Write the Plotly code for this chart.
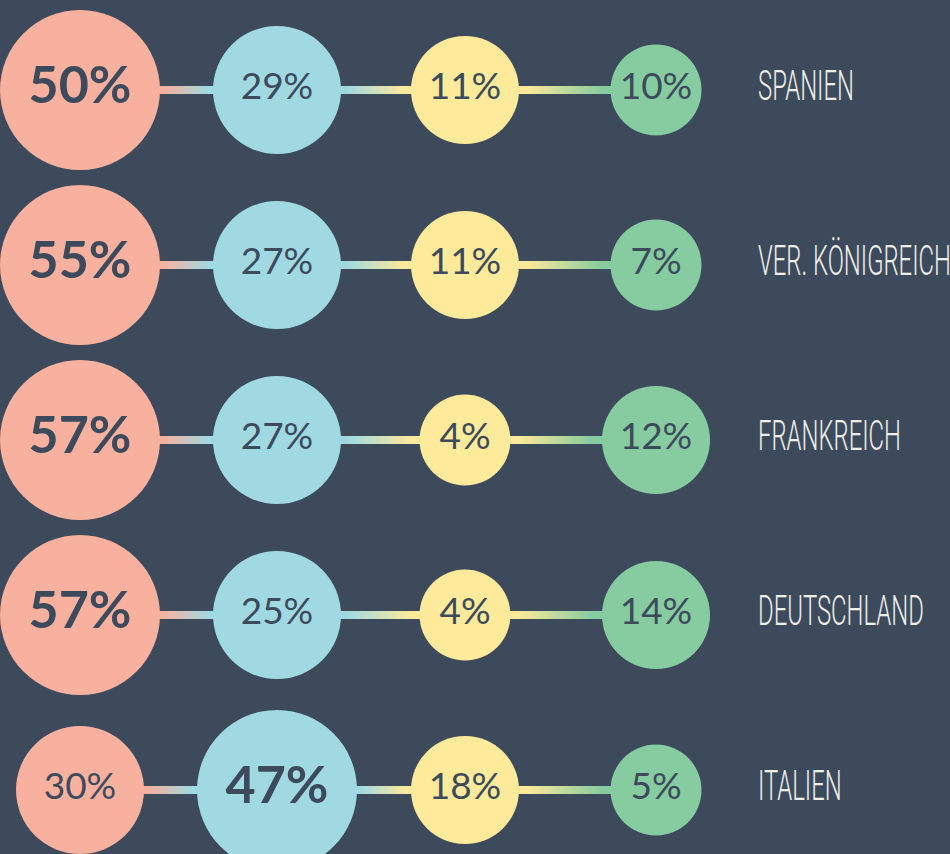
import plotly.graph_objects as go

# ---- data ----
countries = ["SPANIEN", "VER. KÖNIGREICH", "FRANKREICH", "DEUTSCHLAND", "ITALIEN"]
series_a = [50, 55, 57, 57, 30]   # salmon
series_b = [29, 27, 27, 25, 47]   # light blue
series_c = [11, 11, 4, 4, 18]     # yellow
series_d = [10, 7, 12, 14, 5]     # green

# ---- styles / layout constants ----
BG = "#3c4a5c"
COLORS = ["#f8b19e", "#a0d9e2", "#fdea9a", "#86cca0"]
TEXT_DARK = "#3c4a5c"
LABEL_COLOR = "#eeeee8"
COL_X = [80, 277, 465, 656]          # column centres (pixel axis)
ROW_Y0, ROW_STEP = 90, 175            # row centres (pixel axis)
RANK_SIZES = [160, 128, 108, 91]      # diameter by rank within a row
W, H = 950, 854
LABEL_SCALE_X = 0.555                 # horizontal condensing of the country labels

series = [series_a, series_b, series_c, series_d]
n_rows = len(countries)
row_y = [ROW_Y0 + ROW_STEP * i for i in range(n_rows)]


def hex_to_rgb(h):
    h = h.lstrip("#")
    return tuple(int(h[i:i + 2], 16) for i in (0, 2, 4))


def mix(c1, c2, t):
    a, b = hex_to_rgb(c1), hex_to_rgb(c2)
    return "rgb({},{},{})".format(*[round(a[k] + (b[k] - a[k]) * t) for k in range(3)])


# sizes by rank inside each row
sizes = [[0] * n_rows for _ in range(4)]
for r in range(n_rows):
    vals = [series[c][r] for c in range(4)]
    order = sorted(range(4), key=lambda c: -vals[c])
    for rank, c in enumerate(order):
        sizes[c][r] = RANK_SIZES[rank]

fig = go.Figure()

# gradient connectors between circle edges (drawn below the circles)
shapes = []
N_SEG = 50
for r in range(n_rows):
    y = row_y[r]
    for c in range(3):
        x0 = COL_X[c] + sizes[c][r] / 2 - 4
        x1 = COL_X[c + 1] - sizes[c + 1][r] / 2 + 4
        for k in range(N_SEG):
            f0 = k / N_SEG
            f1 = (k + 1) / N_SEG
            fm = (f0 + f1) / 2
            t = min(1.0, max(0.0, (fm - 0.12) / 0.76))
            shapes.append(dict(
                type="line", layer="below",
                x0=x0 + (x1 - x0) * f0 - 0.6, x1=x0 + (x1 - x0) * f1 + 0.6,
                y0=y, y1=y, xref="x", yref="y",
                line=dict(color=mix(COLORS[c], COLORS[c + 1], t), width=8),
            ))

# circles
for c in range(4):
    fig.add_trace(go.Scatter(
        x=[COL_X[c]] * n_rows, y=row_y, mode="markers",
        marker=dict(size=sizes[c], color=COLORS[c], line=dict(width=0), opacity=1),
        hoverinfo="skip", showlegend=False,
    ))

# value labels
big_x, big_y, big_t, sm_x, sm_y, sm_t = [], [], [], [], [], []
for c in range(4):
    for r in range(n_rows):
        txt = f"{series[c][r]}%"
        if sizes[c][r] == RANK_SIZES[0]:
            big_x.append(COL_X[c]); big_y.append(row_y[r]); big_t.append(txt)
        else:
            sm_x.append(COL_X[c]); sm_y.append(row_y[r]); sm_t.append(txt)

fig.add_trace(go.Scatter(
    x=big_x, y=big_y, text=big_t, mode="text", textposition="middle center",
    textfont=dict(family="Lato, sans-serif", size=52, color=TEXT_DARK, weight="bold"),
    hoverinfo="skip", showlegend=False, cliponaxis=False,
))
fig.add_trace(go.Scatter(
    x=sm_x, y=sm_y, text=sm_t, mode="text", textposition="middle center",
    textfont=dict(family="Lato, sans-serif", size=37, color=TEXT_DARK),
    hoverinfo="skip", showlegend=False, cliponaxis=False,
))

# country labels (last trace; condensed horizontally after rendering)
fig.add_trace(go.Scatter(
    x=[758] * n_rows, y=[v - 1 for v in row_y], text=countries, mode="text",
    textposition="middle right",
    textfont=dict(family="Roboto, sans-serif", size=43, color=LABEL_COLOR, weight=300),
    hoverinfo="skip", showlegend=False, cliponaxis=False,
))

fig.update_layout(
    width=W, height=H, margin=dict(l=0, r=0, t=0, b=0),
    paper_bgcolor=BG, plot_bgcolor=BG, shapes=shapes,
    xaxis=dict(range=[0, W], visible=False, fixedrange=True),
    yaxis=dict(range=[H, 0], visible=False, fixedrange=True),
)

post = """
document.body.style.margin = '0';
document.body.style.overflow = 'hidden';
(function(){
  function condense(){
    var gd = document.getElementById('{plot_id}');
    if (!gd) return false;
    var traces = gd.querySelectorAll('g.scatterlayer g.trace');
    if (!traces.length) return false;
    var last = traces[traces.length - 1];
    var texts = last.querySelectorAll('text');
    if (!texts.length) return false;
    texts.forEach(function(t){
      if (t.getAttribute('data-condensed')) return;
      var x = parseFloat(t.getAttribute('x')) || 0;
      t.setAttribute('transform', 'translate(' + x + ',0) scale(%s,1) translate(' + (-x) + ',0)');
      t.setAttribute('data-condensed', '1');
    });
    return true;
  }
  if (!condense()) { setTimeout(condense, 0); setTimeout(condense, 200); }
})();
""" % LABEL_SCALE_X

fig.write_html("out.html", post_script=post, config={"displayModeBar": False})
